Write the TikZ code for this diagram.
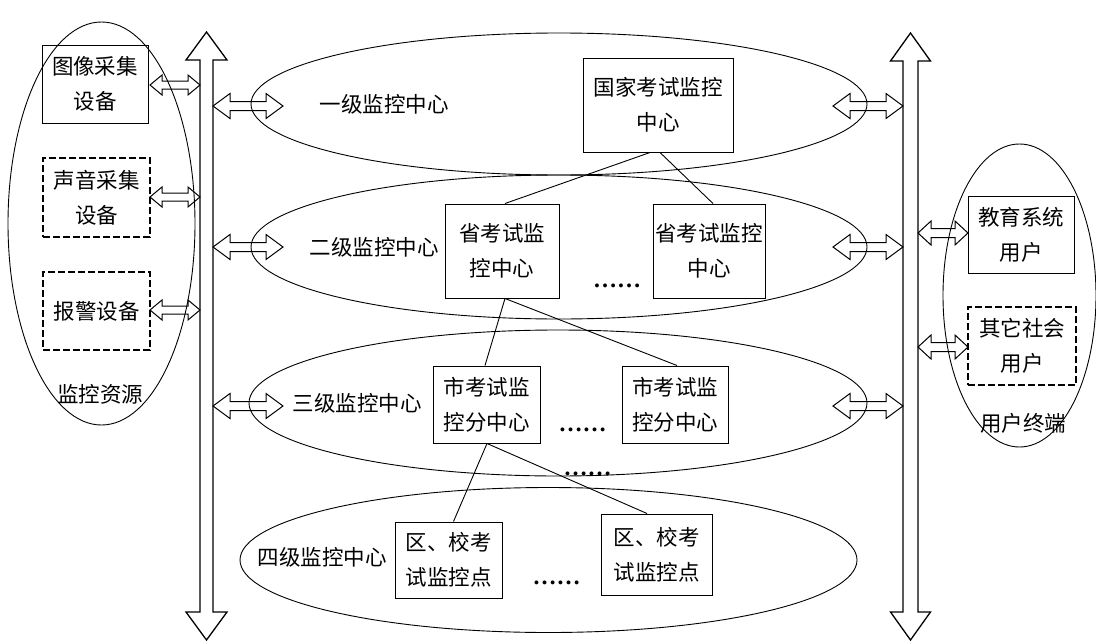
\documentclass[tikz,border=0pt]{standalone}
\usepackage{fontspec}
\newfontfamily\cjk{Noto Sans CJK SC}
\newfontfamily\dotsfont{Liberation Serif}
\usetikzlibrary{shapes.geometric}
% horizontal hollow double arrow: x1, x2, y, shaft half width, head half width, head length
\newcommand\HDA[6]{%
  \draw[blk] (#1,#3) -- ({#1+#6},{#3-#5}) -- ({#1+#6},{#3-#4}) -- ({#2-#6},{#3-#4}) -- ({#2-#6},{#3-#5}) -- (#2,#3)
    -- ({#2-#6},{#3+#5}) -- ({#2-#6},{#3+#4}) -- ({#1+#6},{#3+#4}) -- ({#1+#6},{#3+#5}) -- cycle;}
% vertical hollow double arrow: x, y1, y2, shaft half width, head half width, head length
\newcommand\VDA[6]{%
  \draw[bus] (#1,#2) -- ({#1+#5},{#2+#6}) -- ({#1+#4},{#2+#6}) -- ({#1+#4},{#3-#6}) -- ({#1+#5},{#3-#6}) -- (#1,#3)
    -- ({#1-#5},{#3-#6}) -- ({#1-#4},{#3-#6}) -- ({#1-#4},{#2+#6}) -- ({#1-#5},{#2+#6}) -- cycle;}
\tikzset{
  box/.style={draw, line width=1pt, align=center, inner sep=0pt, font=\cjk\fontsize{21.5}{35}\selectfont},
  dbox/.style={box, line width=2.7pt, dash pattern=on 7pt off 3pt},
  lbl/.style={font=\cjk\fontsize{21.5}{35}\selectfont, inner sep=0pt},
  lev/.style={draw, ellipse, line width=0.9pt, inner sep=0pt},
  link/.style={line width=0.9pt},
  blk/.style={line width=1pt, line join=miter},
  bus/.style={line width=1.3pt, line join=miter},
  dotsl/.style={font=\dotsfont\bfseries\fontsize{24}{24}\selectfont, inner sep=0pt},
}
\begin{document}
\begin{tikzpicture}[x=1pt,y=-1pt]
\fill[white] (0,0) rectangle (1096,643);
\useasboundingbox (0,0) rectangle (1096,643);

% monitoring resources
\node[lev, minimum width=187pt, minimum height=403pt] (resE) at (101.5,223.5) {};
\node[box, minimum width=106pt, minimum height=78pt] (img) at (95,84) {图像采集\\设备};
\node[dbox, minimum width=107pt, minimum height=79pt] (snd) at (96.5,197.5) {声音采集\\设备};
\node[dbox, minimum width=107pt, minimum height=78pt] (alm) at (96.5,311) {报警设备};
\node[lbl] (res) at (100,394) {监控资源};

% levels
\node[lev, minimum width=616pt, minimum height=142pt] (L1) at (559,104) {};
\node[lev, minimum width=616pt, minimum height=144pt] (L2) at (559,247) {};
\node[lev, minimum width=618pt, minimum height=146pt] (L3) at (558,403) {};
\node[lev, minimum width=617pt, minimum height=145pt] (L4) at (548.5,560) {};

\node[lbl] (t1) at (384,104) {一级监控中心};
\node[lbl] (t2) at (374,247) {二级监控中心};
\node[lbl] (t3) at (357,403) {三级监控中心};
\node[lbl] (t4) at (322,557) {四级监控中心};

\node[box, minimum width=150pt, minimum height=94pt] (gj) at (658,105) {国家考试监控\\中心};
\node[box, minimum width=114pt, minimum height=94pt] (sl) at (502,251) {省考试监\\控中心};
\node[box, minimum width=112pt, minimum height=94pt] (sr) at (709,251) {省考试监控\\中心};
\node[box, minimum width=107pt, minimum height=77pt] (shl) at (486.5,404.5) {市考试监\\控分中心};
\node[box, minimum width=106pt, minimum height=77pt] (shr) at (675,404.5) {市考试监\\控分中心};
\node[box, minimum width=107pt, minimum height=76pt] (ql) at (448.5,560) {区、校考\\试监控点};
\node[box, minimum width=111pt, minimum height=81pt] (qr) at (656.5,554.5) {区、校考\\试监控点};

\node[dotsl] (d1) at (617,286) {……};
\node[dotsl] (d2) at (582.5,430) {……};
\node[dotsl] (d3) at (587.5,474) {……};
\node[dotsl] (d4) at (556.5,583) {……};

% user terminals
\node[lev, minimum width=153pt, minimum height=303pt] (usrE) at (1019.5,295.5) {};
\node[box, minimum width=106pt, minimum height=77pt] (edu) at (1021,234.5) {教育系统\\用户};
\node[dbox, minimum width=108pt, minimum height=78pt] (oth) at (1022,346) {其它社会\\用户};
\node[lbl] (usr) at (1023,423) {用户终端};

% hierarchy links
\draw[link] ([xshift=-8pt]gj.south) -- ([xshift=3pt]sl.north);
\draw[link] ([xshift=2pt]gj.south) -- ([xshift=4pt]sr.north);
\draw[link] ([xshift=3pt]sl.south) -- ([xshift=-1.5pt]shl.north);
\draw[link] ([xshift=3pt]sl.south) -- ([xshift=2pt]shr.north);
\draw[link] ([xshift=0.5pt]shl.south) -- ([xshift=5pt]ql.north);
\draw[link] ([xshift=0.5pt]shl.south) -- ([xshift=-9.5pt]qr.north);

% buses
\VDA{206.5}{32}{640}{6.5}{20.5}{28}
\VDA{910.5}{33}{640}{7.5}{20}{28}

% resource arrows
\HDA{150}{200}{85}{4}{10}{12}
\HDA{150}{200}{197}{4}{10}{12}
\HDA{150}{200}{310}{4}{10}{12}

% level arrows
\HDA{213}{283}{106}{4.5}{12.5}{17}
\HDA{213}{283}{247}{4.5}{12.5}{17}
\HDA{213}{283}{406}{4.5}{12.5}{17}
\HDA{833}{903}{106}{4.5}{12.5}{17}
\HDA{833}{903}{247}{4.5}{12.5}{17}
\HDA{833}{903}{406}{4.5}{12.5}{17}

% user arrows
\HDA{918}{968}{233}{4.5}{12}{13}
\HDA{918}{968}{347}{4.5}{12}{13}
\end{tikzpicture}
\end{document}
